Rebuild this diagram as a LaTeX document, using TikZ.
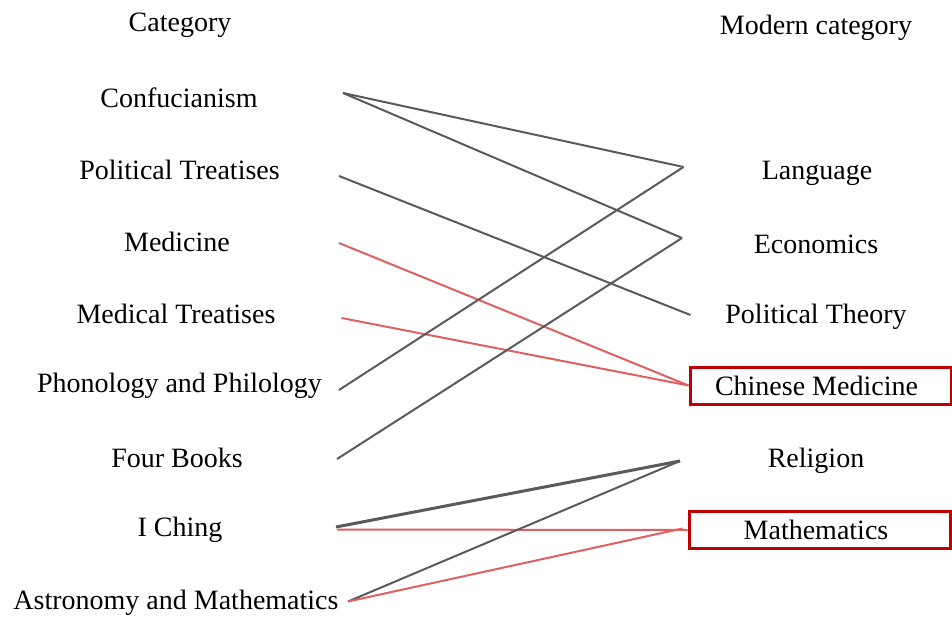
\documentclass[tikz,border=0pt]{standalone}
\usepackage{fontspec}
\setmainfont{Liberation Serif}
\begin{document}
\begin{tikzpicture}[x=1pt,y=-1pt,
  lbltext/.style={font=\fontsize{28}{32}\selectfont, inner sep=0pt, anchor=center},
  lbl/.style={lbltext, yshift=-3pt},
  hibox/.style={lbltext, draw=boxred, line width=3pt, minimum width=261pt, minimum height=37pt},
  grayline/.style={draw=linegray, line width=2pt},
  redline/.style={draw=linered, line width=2pt}]
\definecolor{linegray}{RGB}{90,90,90}
\definecolor{linered}{RGB}{222,96,96}
\definecolor{boxred}{RGB}{192,0,0}
\useasboundingbox (0,0) rectangle (952,617);
% left column
\node[lbl] (cat) at (180,22) {Category};
\node[lbl] (conf) at (179,95) {Confucianism};
\node[lbl] (pol) at (179.5,167) {Political Treatises};
\node[lbl] (med) at (177,239) {Medicine};
\node[lbl] (medt) at (176,311) {Medical Treatises};
\node[lbl] (phon) at (179.5,383) {Phonology and Philology};
\node[lbl] (four) at (177,455) {Four Books};
\node[lbl] (iching) at (180,527) {I Ching};
\node[lbl] (astro) at (176,600) {Astronomy and Mathematics};
% right column
\node[lbl] (mod) at (816,25) {Modern category};
\node[lbl] (lang) at (817,170) {Language};
\node[lbl] (econ) at (816,241) {Economics};
\node[lbl] (polt) at (816,314) {Political Theory};
\node[hibox] (cmed) at (820.5,385.5) {\hspace*{-8pt}Chinese Medicine};
\node[lbl] (rel) at (816,458) {Religion};
\node[hibox] (math) at (819.5,530) {\hspace*{-7pt}Mathematics};
% connector end points
\coordinate (confE) at (343,93);
\coordinate (polE) at (339,176);
\coordinate (medE) at (339,243);
\coordinate (medtE) at (341.5,318);
\coordinate (phonE) at (339,390);
\coordinate (fourE) at (337,459);
\coordinate (ichE) at (336,527);
\coordinate (ichRE) at (337,529.5);
\coordinate (astE) at (348,601.5);
\coordinate (langE) at (683.5,167);
\coordinate (econE) at (682,238);
\coordinate (poltE) at (690.5,315);
\coordinate (relE) at (680,461);
% connectors
\draw[grayline] (confE) -- (langE);
\draw[grayline] (confE) -- (econE);
\draw[grayline] (polE) -- (poltE);
\draw[redline] (medE) -- (cmed.west);
\draw[redline] (medtE) -- (cmed.west);
\draw[grayline] (phonE) -- (langE);
\draw[grayline] (fourE) -- (econE);
\draw[grayline, line width=3pt] (ichE) -- (relE);
\draw[redline] (ichRE) -- (math.west);
\draw[grayline] (astE) -- (relE);
\draw[redline] (astE) -- ([yshift=1.5pt,xshift=-5pt]math.west);
\end{tikzpicture}
\end{document}
